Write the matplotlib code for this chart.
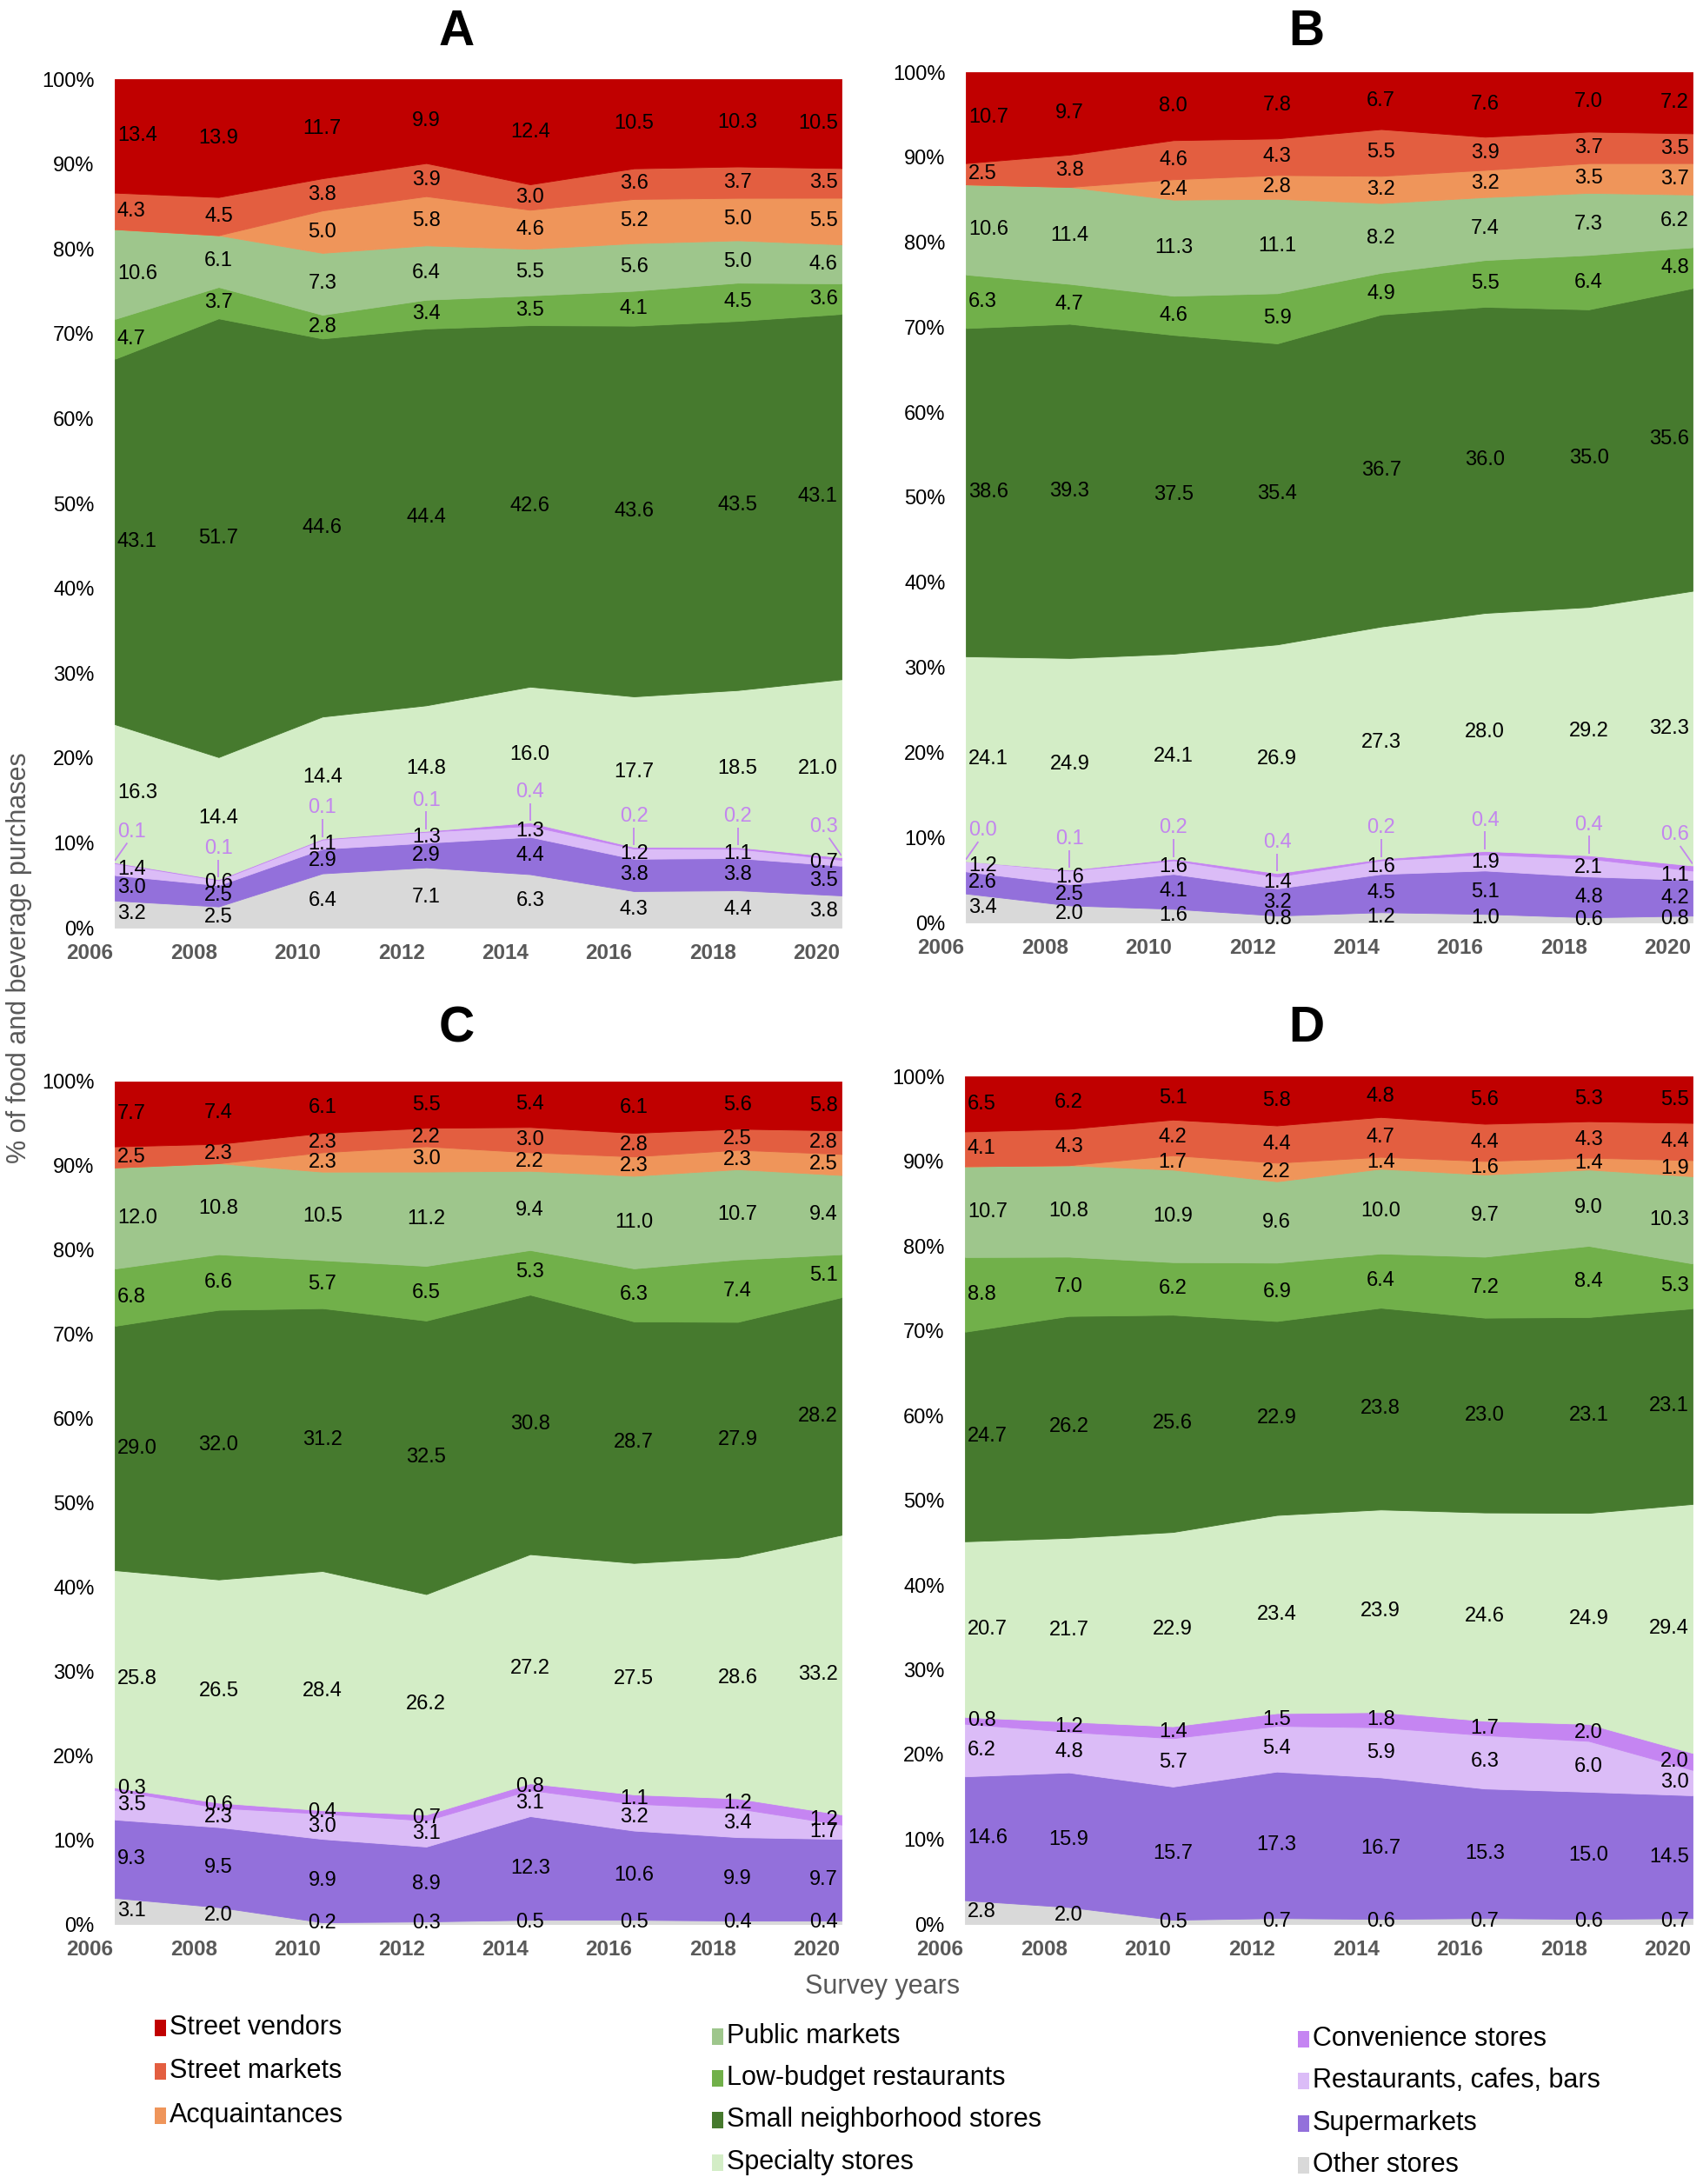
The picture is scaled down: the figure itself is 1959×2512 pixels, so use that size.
import numpy as np
import matplotlib
matplotlib.use("Agg")
import matplotlib.pyplot as plt
from matplotlib.patches import Rectangle
from matplotlib.transforms import blended_transform_factory

plt.rcParams["font.family"] = ["Liberation Sans", "DejaVu Sans"]

W, H = 1959, 2512
nan = np.nan

years = [2006, 2008, 2010, 2012, 2014, 2016, 2018, 2020]

# stacking order, bottom -> top
categories = [
    "Other stores", "Supermarkets", "Restaurants, cafes, bars", "Convenience stores",
    "Specialty stores", "Small neighborhood stores", "Low-budget restaurants",
    "Public markets", "Acquaintances", "Street markets", "Street vendors",
]
colors = [
    "#D9D9D9", "#9370DB", "#DBBCF7", "#C585F2",
    "#D3EDC6", "#467A2E", "#71B04A",
    "#9EC68C", "#EF955A", "#E35E40", "#C00000",
]

# rows follow `categories`
values_a = [
    [3.2, 2.5, 6.4, 7.1, 6.3, 4.3, 4.4, 3.8],
    [3.0, 2.5, 2.9, 2.9, 4.4, 3.8, 3.8, 3.5],
    [1.4, 0.6, 1.1, 1.3, 1.3, 1.2, 1.1, 0.7],
    [0.1, 0.1, 0.1, 0.1, 0.4, 0.2, 0.2, 0.3],
    [16.3, 14.4, 14.4, 14.8, 16.0, 17.7, 18.5, 21.0],
    [43.1, 51.7, 44.6, 44.4, 42.6, 43.6, 43.5, 43.1],
    [4.7, 3.7, 2.8, 3.4, 3.5, 4.1, 4.5, 3.6],
    [10.6, 6.1, 7.3, 6.4, 5.5, 5.6, 5.0, 4.6],
    [nan, nan, 5.0, 5.8, 4.6, 5.2, 5.0, 5.5],
    [4.3, 4.5, 3.8, 3.9, 3.0, 3.6, 3.7, 3.5],
    [13.4, 13.9, 11.7, 9.9, 12.4, 10.5, 10.3, 10.5],
]
values_b = [
    [3.4, 2.0, 1.6, 0.8, 1.2, 1.0, 0.6, 0.8],
    [2.6, 2.5, 4.1, 3.2, 4.5, 5.1, 4.8, 4.2],
    [1.2, 1.6, 1.6, 1.4, 1.6, 1.9, 2.1, 1.1],
    [0.0, 0.1, 0.2, 0.4, 0.2, 0.4, 0.4, 0.6],
    [24.1, 24.9, 24.1, 26.9, 27.3, 28.0, 29.2, 32.3],
    [38.6, 39.3, 37.5, 35.4, 36.7, 36.0, 35.0, 35.6],
    [6.3, 4.7, 4.6, 5.9, 4.9, 5.5, 6.4, 4.8],
    [10.6, 11.4, 11.3, 11.1, 8.2, 7.4, 7.3, 6.2],
    [nan, nan, 2.4, 2.8, 3.2, 3.2, 3.5, 3.7],
    [2.5, 3.8, 4.6, 4.3, 5.5, 3.9, 3.7, 3.5],
    [10.7, 9.7, 8.0, 7.8, 6.7, 7.6, 7.0, 7.2],
]
values_c = [
    [3.1, 2.0, 0.2, 0.3, 0.5, 0.5, 0.4, 0.4],
    [9.3, 9.5, 9.9, 8.9, 12.3, 10.6, 9.9, 9.7],
    [3.5, 2.3, 3.0, 3.1, 3.1, 3.2, 3.4, 1.7],
    [0.3, 0.6, 0.4, 0.7, 0.8, 1.1, 1.2, 1.2],
    [25.8, 26.5, 28.4, 26.2, 27.2, 27.5, 28.6, 33.2],
    [29.0, 32.0, 31.2, 32.5, 30.8, 28.7, 27.9, 28.2],
    [6.8, 6.6, 5.7, 6.5, 5.3, 6.3, 7.4, 5.1],
    [12.0, 10.8, 10.5, 11.2, 9.4, 11.0, 10.7, 9.4],
    [nan, nan, 2.3, 3.0, 2.2, 2.3, 2.3, 2.5],
    [2.5, 2.3, 2.3, 2.2, 3.0, 2.8, 2.5, 2.8],
    [7.7, 7.4, 6.1, 5.5, 5.4, 6.1, 5.6, 5.8],
]
values_d = [
    [2.8, 2.0, 0.5, 0.7, 0.6, 0.7, 0.6, 0.7],
    [14.6, 15.9, 15.7, 17.3, 16.7, 15.3, 15.0, 14.5],
    [6.2, 4.8, 5.7, 5.4, 5.9, 6.3, 6.0, 3.0],
    [0.8, 1.2, 1.4, 1.5, 1.8, 1.7, 2.0, 2.0],
    [20.7, 21.7, 22.9, 23.4, 23.9, 24.6, 24.9, 29.4],
    [24.7, 26.2, 25.6, 22.9, 23.8, 23.0, 23.1, 23.1],
    [8.8, 7.0, 6.2, 6.9, 6.4, 7.2, 8.4, 5.3],
    [10.7, 10.8, 10.9, 9.6, 10.0, 9.7, 9.0, 10.3],
    [nan, nan, 1.7, 2.2, 1.4, 1.6, 1.4, 1.9],
    [4.1, 4.3, 4.2, 4.4, 4.7, 4.4, 4.3, 4.4],
    [6.5, 6.2, 5.1, 5.8, 4.8, 5.6, 5.3, 5.5],
]

legend_cols = [
    ["Street vendors", "Street markets", "Acquaintances"],
    ["Public markets", "Low-budget restaurants", "Small neighborhood stores", "Specialty stores"],
    ["Convenience stores", "Restaurants, cafes, bars", "Supermarkets", "Other stores"],
]

PURPLE_TXT = "#C386EE"
GRAY_TXT = "#595959"


def px_rect(left, right, top, bottom):
    return [left / W, 1 - bottom / H, (right - left) / W, (bottom - top) / H]


def draw_panel(ax, values, purple_small):
    raw = np.array(values, dtype=float)
    filled = np.nan_to_num(raw)
    pct = filled / filled.sum(axis=0) * 100
    x = np.arange(len(years))
    polys = ax.stackplot(x, pct, colors=colors, linewidth=0)
    for p, c in zip(polys, colors):
        p.set_edgecolor(c)
        p.set_linewidth(0.6)
    ax.set_xlim(0, len(years) - 1)
    ax.set_ylim(0, 100)
    for s in ax.spines.values():
        s.set_visible(False)
    ax.set_xticks([])
    ax.set_yticks(range(0, 101, 10))
    ax.set_yticklabels([f"{t}%" for t in range(0, 101, 10)])
    ax.tick_params(axis="y", length=0, pad=17, labelsize=17)

    cum = np.vstack([np.zeros(len(years)), np.cumsum(pct, axis=0)])
    last = len(years) - 1
    for k, cat in enumerate(categories):
        for i in range(len(years)):
            v = raw[k, i]
            if np.isnan(v):
                continue
            if i == 0:
                ha, dx = "left", 2
            elif i == last:
                ha, dx = "right", -3
            else:
                ha, dx = "center", 0
            if purple_small and cat == "Convenience stores":
                top = cum[k + 1, i]
                ax.annotate(f"{v:.1f}", xy=(i, top + 3.6), xytext=(dx, 0),
                            textcoords="offset points", ha=ha, va="center",
                            fontsize=17, color=PURPLE_TXT)
                x_end = i + 0.12 if i == 0 else (i - 0.12 if i == last else i)
                ax.plot([i, x_end], [top + 0.2, top + 2.3], color=PURPLE_TXT,
                        lw=1.3, solid_capstyle="butt")
            else:
                mid = (cum[k, i] + cum[k + 1, i]) / 2
                ax.annotate(f"{v:.1f}", xy=(i, mid), xytext=(dx, 0),
                            textcoords="offset points", ha=ha, va="center",
                            fontsize=17, color="black")

    trans = blended_transform_factory(ax.transData, ax.transAxes)
    for i, yr in enumerate(years):
        ax.annotate(str(yr), xy=(i - 0.24, 0), xycoords=trans, xytext=(0, -21),
                    textcoords="offset points", ha="center", va="center",
                    fontsize=17.5, fontweight="bold", color=GRAY_TXT,
                    annotation_clip=False)


fig = plt.figure(figsize=(W / 100, H / 100), dpi=100)

panels = [
    ("A", values_a, True, px_rect(132, 968, 91, 1067), (525, 37)),
    ("B", values_b, True, px_rect(1111, 1947, 83, 1061), (1503, 37)),
    ("C", values_c, False, px_rect(132, 968, 1244, 2213), (525, 1183)),
    ("D", values_d, False, px_rect(1110, 1947, 1238, 2213), (1503, 1183)),
]
for letter, vals, purple_small, rect, tpos in panels:
    ax = fig.add_axes(rect)
    draw_panel(ax, vals, purple_small)
    fig.text(tpos[0] / W, 1 - tpos[1] / H, letter, fontsize=41, fontweight="bold",
             ha="center", va="center")

fig.text(22 / W, 1 - 1102 / H, "% of food and beverage purchases", rotation=90,
         fontsize=22, color=GRAY_TXT, ha="center", va="center")
fig.text(1015 / W, 1 - 2285 / H, "Survey years", fontsize=22, color=GRAY_TXT,
         ha="center", va="center")

# legend, drawn as three columns
col_x = [185, 826, 1500]
col_rows = [[2332, 2382, 2433], [2342, 2390, 2438, 2487], [2345, 2393, 2442, 2490]]
for names, cx, rows in zip(legend_cols, col_x, col_rows):
    for name, cy in zip(names, rows):
        c = colors[categories.index(name)]
        fig.patches.append(Rectangle(((cx - 7) / W, 1 - (cy + 10) / H), 13 / W, 19 / H,
                                     transform=fig.transFigure, facecolor=c,
                                     edgecolor="none"))
        fig.text((cx + 10) / W, 1 - cy / H, name, fontsize=22, ha="left", va="center")

fig.savefig("out.png", dpi=100)
